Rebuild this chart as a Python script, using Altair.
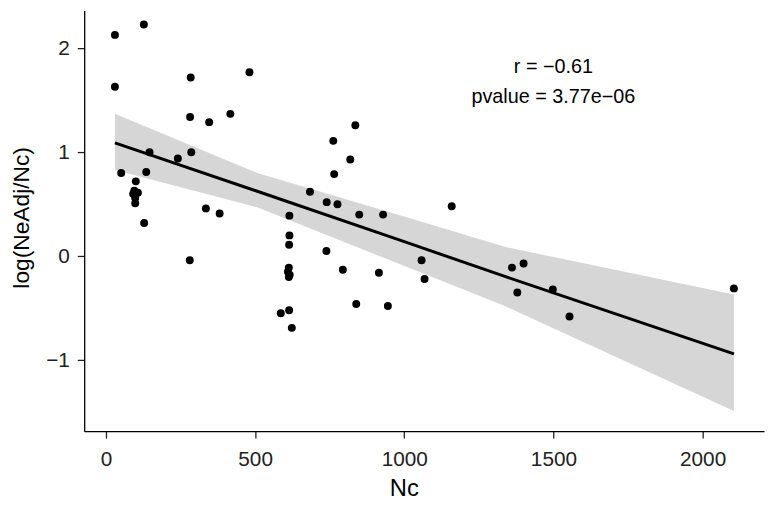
import altair as alt
import pandas as pd

# Census size (Nc) and log(NeAdj/Nc)
nc = [30, 127, 30, 284, 481, 282, 346, 417, 146, 241, 286, 51, 135,
      100, 95, 107, 91, 98, 98,
      335, 381, 128, 281,
      836, 762, 819, 765, 684, 740, 776, 849, 929, 1159,
      615, 615, 614, 613, 610, 616, 613,
      739, 794, 915, 1058, 1068, 839, 945, 586, 614, 623,
      1361, 1400, 1379, 1498, 1554, 2105]
log_ratio = [2.13, 2.23, 1.63, 1.72, 1.77, 1.34, 1.29, 1.37, 1.00, 0.94, 1.00, 0.80, 0.81,
             0.72, 0.63, 0.61, 0.60, 0.56, 0.51,
             0.46, 0.41, 0.32, -0.04,
             1.26, 1.11, 0.93, 0.79, 0.62, 0.52, 0.50, 0.40, 0.40, 0.48,
             0.39, 0.20, 0.11, -0.11, -0.15, -0.18, -0.20,
             0.05, -0.13, -0.16, -0.04, -0.22, -0.46, -0.48, -0.55, -0.52, -0.69,
             -0.11, -0.07, -0.35, -0.32, -0.58, -0.31]

# fitted line and its 95% confidence band
band_x = [30, 507, 1005, 1337, 2105]
band_fit = [1.09, 0.625, 0.135, -0.195, -0.94]
band_hi = [1.37, 0.80, 0.376, 0.09, -0.37]
band_lo = [0.83, 0.47, -0.10, -0.48, -1.49]

annot_text = ["r = \u22120.61", "pvalue = 3.77e\u221206"]
annot_x = [1500, 1500]
annot_y = [1.82, 1.535]

x_ticks = [0, 500, 1000, 1500, 2000]
y_ticks = [-1, 0, 1, 2]

pts = pd.DataFrame({"Nc": nc, "val": log_ratio})
band = pd.DataFrame({"Nc": band_x, "fit": band_fit, "lo": band_lo, "hi": band_hi})
ann = pd.DataFrame({"t": annot_text, "x": annot_x, "y": annot_y})

xscale = alt.Scale(domain=[-73, 2206], nice=False, zero=False)
yscale = alt.Scale(domain=[-1.684, 2.364], nice=False, zero=False)

xaxis = alt.Axis(values=x_ticks, title="Nc", titleX=323, titleY=58,
                 titleBaseline="middle", titleAlign="center",
                 labelBaseline="middle", labelPadding=22, format="d")
yaxis = alt.Axis(values=y_ticks, title="log(NeAdj/Nc)", titleAngle=270,
                 titleX=-63, titleY=209, titleAlign="center",
                 titleBaseline="middle", titleFontSize=23,
                 labelPadding=8, format="d")

area = alt.Chart(band).mark_area(color="#999999", opacity=0.4).encode(
    x=alt.X("Nc:Q", scale=xscale, axis=xaxis),
    y=alt.Y("lo:Q", scale=yscale, axis=yaxis),
    y2="hi:Q",
)
line = alt.Chart(band).mark_line(color="black", strokeWidth=3).encode(
    x=alt.X("Nc:Q", scale=xscale),
    y=alt.Y("fit:Q", scale=yscale),
)
points = alt.Chart(pts).mark_circle(color="black", opacity=1, size=64).encode(
    x=alt.X("Nc:Q", scale=xscale),
    y=alt.Y("val:Q", scale=yscale),
)
text = alt.Chart(ann).mark_text(font="Liberation Sans", fontSize=20,
                                color="black", align="center",
                                baseline="middle").encode(
    x=alt.X("x:Q", scale=xscale),
    y=alt.Y("y:Q", scale=yscale),
    text="t:N",
)

chart = alt.layer(area, line, points, text).properties(
    width=687, height=425,
    autosize=alt.AutoSizeParams(type="none"),
    padding={"left": 77, "top": 0, "right": 3, "bottom": 67},
    background="white",
).configure_view(stroke=None).configure_axis(
    grid=False,
    domainColor="black", domainWidth=1.3,
    tickColor="#222222", tickSize=7, tickWidth=1.3,
    labelFont="Liberation Sans", labelFontSize=21, labelColor="#222222",
    titleFont="Liberation Sans", titleFontSize=24, titleColor="black",
    titleFontWeight="normal",
)

chart.save("out.html", embed_options={"renderer": "svg", "actions": False})
